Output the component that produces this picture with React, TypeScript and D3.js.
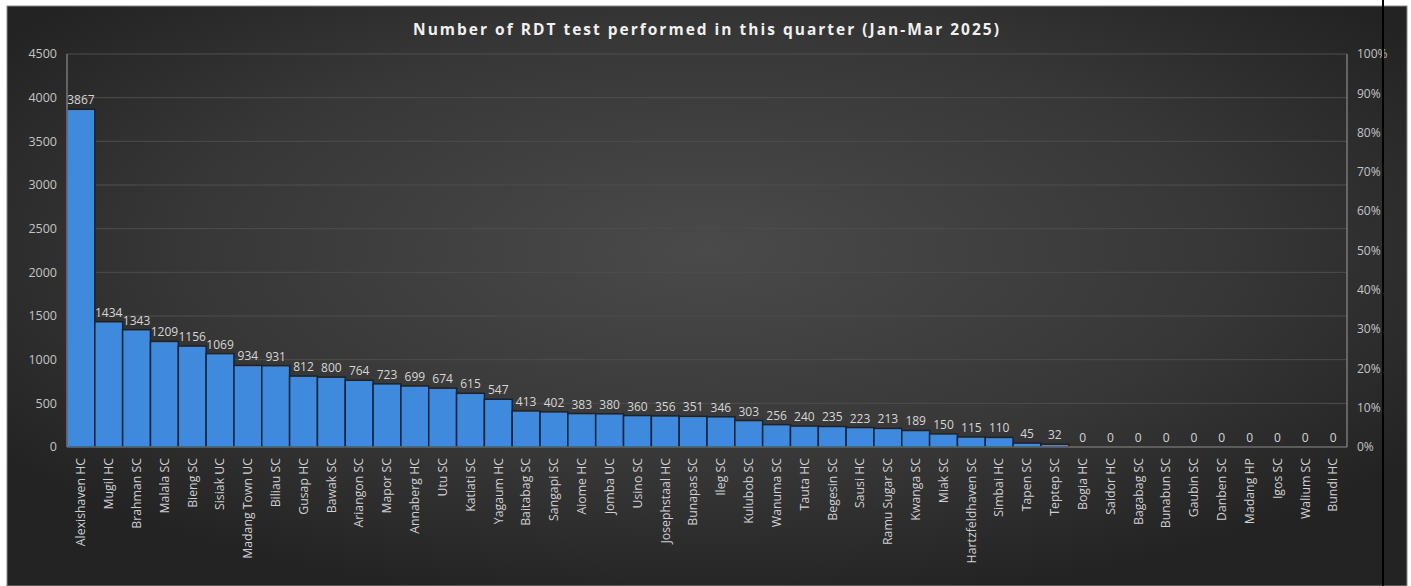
import * as d3 from "d3";

const CATEGORIES = [
  "Alexishaven HC", "Mugil HC", "Brahman SC", "Malala SC", "Bieng SC", "Sisiak UC",
  "Madang Town UC", "Biliau SC", "Gusap HC", "Bawak SC", "Ariangon SC", "Mapor SC",
  "Annaberg HC", "Utu SC", "Katiati SC", "Yagaum HC", "Baitabag SC", "Sangapi SC",
  "Aiome HC", "Jomba UC", "Usino SC", "Josephstaal HC", "Bunapas SC", "Ileg SC",
  "Kulubob SC", "Wanuma SC", "Tauta HC", "Begesin SC", "Sausi HC", "Ramu Sugar SC",
  "Kwanga SC", "Miak SC", "Hartzfeldhaven SC", "Simbai HC", "Tapen SC", "Teptep SC",
  "Bogia HC", "Saidor HC", "Bagabag SC", "Bunabun SC", "Gaubin SC", "Danben SC",
  "Madang HP", "Igos SC", "Walium SC", "Bundi HC",
];

const VALUES = [
  3867, 1434, 1343, 1209, 1156, 1069, 934, 931, 812, 800, 764, 723, 699, 674, 615,
  547, 413, 402, 383, 380, 360, 356, 351, 346, 303, 256, 240, 235, 223, 213, 189,
  150, 115, 110, 45, 32, 0, 0, 0, 0, 0, 0, 0, 0, 0, 0,
];

const Y_TICKS = [0, 500, 1000, 1500, 2000, 2500, 3000, 3500, 4000, 4500];
const PCT_TICKS = [0, 0.1, 0.2, 0.3, 0.4, 0.5, 0.6, 0.7, 0.8, 0.9, 1];

const TITLE = "Number of RDT test performed in this quarter (Jan-Mar 2025)";

const W = 1411, H = 586;
const FONT = "'Open Sans', 'DejaVu Sans', sans-serif";

export default function App() {
  const plot = { left: 67, right: 1347, top: 54, bottom: 447 };

  const x = d3.scaleBand<string>().domain(CATEGORIES).range([plot.left, plot.right]).padding(0);
  const y = d3.scaleLinear().domain([0, 4500]).range([plot.bottom, plot.top]);
  const yPct = d3.scaleLinear().domain([0, 1]).range([plot.bottom, plot.top]);
  const pct = d3.format(".0%");

  return (
    <svg width={W} height={H} style={{ position: "absolute", left: 0, top: 0, display: "block" }}>
      <defs>
        <radialGradient id="bg" cx="50%" cy="42%" r="62%">
          <stop offset="0%" stopColor="#4a4a4a" />
          <stop offset="60%" stopColor="#373737" />
          <stop offset="100%" stopColor="#232323" />
        </radialGradient>
      </defs>
      <rect width={W} height={H} fill="#ffffff" />
      <rect x={7} y={6} width={1400} height={H - 6} fill="url(#bg)" stroke="#8a8a8a" strokeWidth={1} />

      {/* title */}
      <text x={(plot.left + plot.right) / 2} y={35} textAnchor="middle" fill="#f0f0f0"
        fontFamily={FONT} fontSize={15.5} fontWeight={700} letterSpacing={2}>
        {TITLE}
      </text>

      {/* gridlines */}
      {Y_TICKS.filter((t) => t > 0).map((t) => (
        <line key={t} x1={plot.left} x2={plot.right} y1={y(t)} y2={y(t)} stroke="#4e4e4e" strokeWidth={1} />
      ))}

      {/* bars */}
      {CATEGORIES.map((c, i) => {
        const v = VALUES[i];
        if (v <= 0) return null;
        return (
          <rect key={c} x={x(c)} y={y(v)} width={x.bandwidth()} height={y(0) - y(v)}
            fill="#3f8add" stroke="#12243a" strokeWidth={1.5} />
        );
      })}

      {/* axes lines */}
      <line x1={plot.left} x2={plot.left} y1={plot.top} y2={plot.bottom} stroke="#8c8c8c" strokeWidth={1.2} />
      <line x1={plot.right} x2={plot.right} y1={plot.top} y2={plot.bottom} stroke="#8c8c8c" strokeWidth={1.2} />
      <line x1={plot.left} x2={plot.right} y1={plot.bottom} y2={plot.bottom} stroke="#8c8c8c" strokeWidth={1.2} />

      {/* data labels */}
      {CATEGORIES.map((c, i) => (
        <text key={c} x={(x(c) ?? 0) + x.bandwidth() / 2} y={y(VALUES[i]) - 5} textAnchor="middle"
          fill="#d6d6d6" fontFamily={FONT} fontSize={12}>
          {VALUES[i]}
        </text>
      ))}

      {/* left ticks */}
      {Y_TICKS.map((t) => (
        <text key={t} x={57} y={y(t)} dy="0.35em" textAnchor="end" fill="#c4c4c4"
          fontFamily={FONT} fontSize={12.5}>
          {t}
        </text>
      ))}

      {/* right ticks */}
      {PCT_TICKS.map((t) => (
        <text key={t} x={1357} y={yPct(t)} dy="0.35em" textAnchor="start" fill="#c4c4c4"
          fontFamily={FONT} fontSize={12}>
          {pct(t)}
        </text>
      ))}

      {/* category labels */}
      {CATEGORIES.map((c) => {
        const cx = (x(c) ?? 0) + x.bandwidth() / 2;
        return (
          <text key={c} transform={`translate(${cx},${plot.bottom + 11}) rotate(-90)`} dy="0.35em"
            textAnchor="end" fill="#d0d0d0" fontFamily={FONT} fontSize={12.3}>
            {c}
          </text>
        );
      })}

      {/* black vertical rule at right */}
      <line x1={1383} x2={1383} y1={0} y2={H} stroke="#000000" strokeWidth={2} />
    </svg>
  );
}
